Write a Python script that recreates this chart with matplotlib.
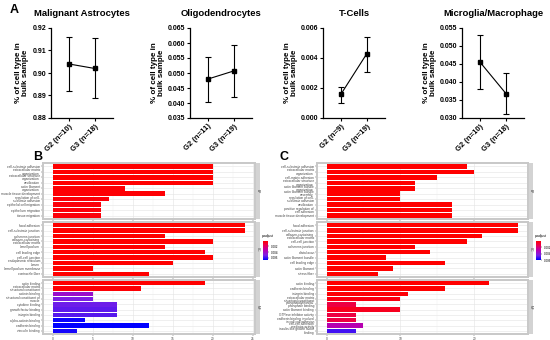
import textwrap
import numpy as np
import matplotlib.pyplot as plt
from matplotlib.colors import LinearSegmentedColormap, Normalize
from matplotlib.colorbar import ColorbarBase

plt.rcParams['font.family'] = ['Liberation Sans', 'DejaVu Sans']

W, H = 550, 340

# ---- panel A data ----
cell_types = ['Malignant Astrocytes', 'Oligodendrocytes', 'T-Cells', 'Microglia/Macrophage']
group_labels = [['G2 (n=10)', 'G3 (n=18)'],
                ['G2 (n=11)', 'G3 (n=19)'],
                ['G2 (n=9)', 'G3 (n=19)'],
                ['G2 (n=10)', 'G3 (n=18)']]
means = [[0.904, 0.902], [0.048, 0.0507], [0.0016, 0.0043], [0.0455, 0.0368]]
err_lo = [[0.892, 0.889], [0.0405, 0.042], [0.0010, 0.0031], [0.038, 0.031]]
err_hi = [[0.916, 0.9155], [0.0553, 0.0593], [0.0021, 0.0054], [0.053, 0.0424]]
y_ticks = [[0.88, 0.89, 0.90, 0.91, 0.92],
           [0.035, 0.040, 0.045, 0.050, 0.055, 0.060, 0.065],
           [0.000, 0.002, 0.004, 0.006],
           [0.030, 0.035, 0.040, 0.045, 0.050, 0.055]]
y_fmt = ['%.2f', '%.3f', '%.3f', '%.3f']
axis_left_px = [51, 190, 323, 462]

# ---- panel B data (GO enrichment, set 1) ----
b_bp_terms = ['cell-substrate adhesion', 'extracellular matrix organization',
              'extracellular structure organization', 'ossification',
              'actin filament organization', 'muscle tissue development',
              'regulation of cell-substrate adhesion', 'epithelial cell migration',
              'epithelium migration', 'tissue migration']
b_bp_count = [20, 20, 20, 20, 9, 14, 7, 6, 6, 6]
b_bp_padj = [0.0001, 0.0001, 0.0001, 0.0001, 0.0002, 0.0002, 0.0003, 0.0003, 0.0003, 0.0003]
b_cc_terms = ['focal adhesion', 'cell-substrate junction', 'adherens junction',
              'collagen-containing extracellular matrix', 'lamellipodium',
              'cell leading edge', 'cell-cell junction', 'endoplasmic reticulum lumen',
              'lamellipodium membrane', 'contractile fiber']
b_cc_count = [24, 24, 14, 20, 14, 19, 20, 15, 5, 12]
b_cc_padj = [0.0001] * 10
b_mf_terms = ['actin binding', 'extracellular matrix structural constituent',
              'actinin binding', 'structural constituent of muscle', 'cytokine binding',
              'growth factor binding', 'integrin binding', 'alpha-actinin binding',
              'cadherin binding', 'vinculin binding']
b_mf_count = [19, 11, 5, 5, 8, 8, 8, 4, 12, 3]
b_mf_padj = [0.0001, 0.0002, 0.0042, 0.0050, 0.0053, 0.0055, 0.0056, 0.0066, 0.0068, 0.0065]

# ---- panel C data (GO enrichment, set 2) ----
c_bp_terms = ['cell-substrate adhesion', 'extracellular matrix organization',
              'cell-matrix adhesion', 'extracellular structure organization',
              'actin filament bundle organization', 'actin filament bundle assembly',
              'regulation of cell-substrate adhesion', 'ossification',
              'positive regulation of cell adhesion', 'muscle tissue development']
c_bp_count = [19, 20, 15, 12, 12, 10, 10, 17, 17, 17]
c_bp_padj = [0.0001] * 10
c_cc_terms = ['focal adhesion', 'cell-substrate junction',
              'collagen-containing extracellular matrix', 'cell-cell junction',
              'adherens junction', 'distal axon', 'actin filament bundle',
              'cell leading edge', 'actin filament', 'stress fiber']
c_cc_count = [26, 26, 21, 19, 12, 14, 8, 16, 9, 7]
c_cc_padj = [0.0001] * 10
c_mf_terms = ['actin binding', 'cadherin binding', 'integrin binding',
              'extracellular matrix structural constituent',
              'phosphatidylinositol phosphate binding', 'actin filament binding',
              'GTPase inhibitor activity', 'cadherin binding involved in cell-cell adhesion',
              'cell-cell adhesion mediator activity', 'insulin-like growth factor binding']
c_mf_count = [22, 16, 11, 10, 4, 10, 4, 4, 5, 4]
c_mf_padj = [0.0001, 0.0001, 0.0002, 0.0004, 0.0012, 0.0006, 0.0012, 0.0012, 0.0030, 0.0052]

red_blue = LinearSegmentedColormap.from_list(
    'rb', ['#ff0000', '#e6005a', '#b400b4', '#7a20e6', '#0000ff'])


def box(x0, y0, x1, y1):
    return [x0 / W, 1 - y1 / H, (x1 - x0) / W, (y1 - y0) / H]


fig = plt.figure(figsize=(5.5, 3.4), dpi=100)

# ---- panel A ----
for i in range(4):
    x0 = axis_left_px[i]
    ax = fig.add_axes(box(x0, 28, x0 + 62, 118))
    m = np.array(means[i])
    yerr = [m - np.array(err_lo[i]), np.array(err_hi[i]) - m]
    ax.errorbar([0, 1], m, yerr=yerr, color='black', lw=0.8, marker='s',
                ms=2.2, capsize=2.2, elinewidth=0.8, capthick=0.8)
    ax.set_xlim(-0.7, 1.7)
    ax.set_ylim(y_ticks[i][0], y_ticks[i][-1])
    ax.set_yticks(y_ticks[i])
    ax.set_yticklabels([y_fmt[i] % v for v in y_ticks[i]], fontsize=5, fontweight='bold')
    ax.set_xticks([0, 1])
    ax.set_xticklabels(group_labels[i], rotation=45, ha='right', rotation_mode='anchor',
                       fontsize=5.5, fontweight='bold')
    ax.tick_params(length=2, width=0.8, pad=1.5)
    for s in ['top', 'right']:
        ax.spines[s].set_visible(False)
    for s in ['left', 'bottom']:
        ax.spines[s].set_linewidth(0.9)
    ax.set_title(cell_types[i], fontsize=6.8, fontweight='bold', pad=9)
    ax.set_ylabel('% of cell type in\nbulk sample', fontsize=5.8, fontweight='bold',
                  labelpad=2, linespacing=1.0)

fig.text(10 / W, 1 - 10 / H, 'A', fontsize=9, fontweight='bold', va='center')
fig.text(33 / W, 1 - 157 / H, 'B', fontsize=9, fontweight='bold', va='center')
fig.text(279 / W, 1 - 157 / H, 'C', fontsize=9, fontweight='bold', va='center')


def go_panel(x0, x1, xlim, xticks, facets, leg_x, norm):
    ys = [(163, 219), (222, 277), (280, 334)]
    names = ['BP', 'CC', 'MF']
    for k, (terms, counts, padj) in enumerate(facets):
        ya, yb = ys[k]
        ax = fig.add_axes(box(x0, ya, x1, yb))
        pos = np.arange(len(terms))
        ax.barh(pos, counts, height=0.82, color=red_blue(norm(np.array(padj))), zorder=2)
        ax.set_ylim(len(terms) - 0.4, -0.6)
        ax.set_xlim(*xlim)
        ax.set_yticks(pos)
        ax.set_yticklabels([textwrap.fill(t, 26) for t in terms], fontsize=1.55,
                           linespacing=0.75)
        ax.set_xticks(xticks)
        ax.set_xticks([(a + b) / 2 for a, b in zip(xticks[:-1], xticks[1:])], minor=True)
        ax.grid(True, which='major', color='#e4e4e4', lw=0.4, zorder=0)
        ax.grid(True, which='minor', axis='x', color='#f0f0f0', lw=0.3, zorder=0)
        ax.tick_params(which='both', length=1.2, width=0.3, pad=1, colors='#444444',
                       labelsize=2.3)
        ax.tick_params(which='minor', length=0)
        if k < 2:
            ax.tick_params(axis='x', labelbottom=False)
        for s in ax.spines.values():
            s.set_color('#c8c8c8')
            s.set_linewidth(1.4)
        sx = fig.add_axes(box(x1 + 0.7, ya, x1 + 5, yb))
        sx.set_facecolor('#d3d3d3')
        sx.set_xticks([])
        sx.set_yticks([])
        for s in sx.spines.values():
            s.set_visible(False)
        sx.text(0.5, 0.5, names[k], rotation=-90, fontsize=2.3, color='#333333',
                ha='center', va='center', transform=sx.transAxes)
    # colour legend
    cax = fig.add_axes(box(leg_x, 241, leg_x + 5, 260))
    cb = ColorbarBase(cax, cmap=red_blue, norm=norm)
    cb.outline.set_visible(False)
    cb.set_ticks([0.002, 0.004, 0.006])
    cb.ax.tick_params(labelsize=2.2, length=1, width=0.3, pad=1)
    cax.invert_yaxis()
    fig.text((leg_x - 1) / W, 1 - 237 / H, 'p.adjust', fontsize=2.4)


norm_b = Normalize(0.0001, 0.0068)
go_panel(43, 255, (-1.2, 25.3), [0, 5, 10, 15, 20, 25],
         [(b_bp_terms, b_bp_count, b_bp_padj),
          (b_cc_terms, b_cc_count, b_cc_padj),
          (b_mf_terms, b_mf_count, b_mf_padj)], 263, norm_b)

norm_c = Normalize(0.0001, 0.0060)
go_panel(317, 528, (-1.3, 27.3), [0, 10, 20],
         [(c_bp_terms, c_bp_count, c_bp_padj),
          (c_cc_terms, c_cc_count, c_cc_padj),
          (c_mf_terms, c_mf_count, c_mf_padj)], 536, norm_c)

fig.savefig('out.png', dpi=100)
